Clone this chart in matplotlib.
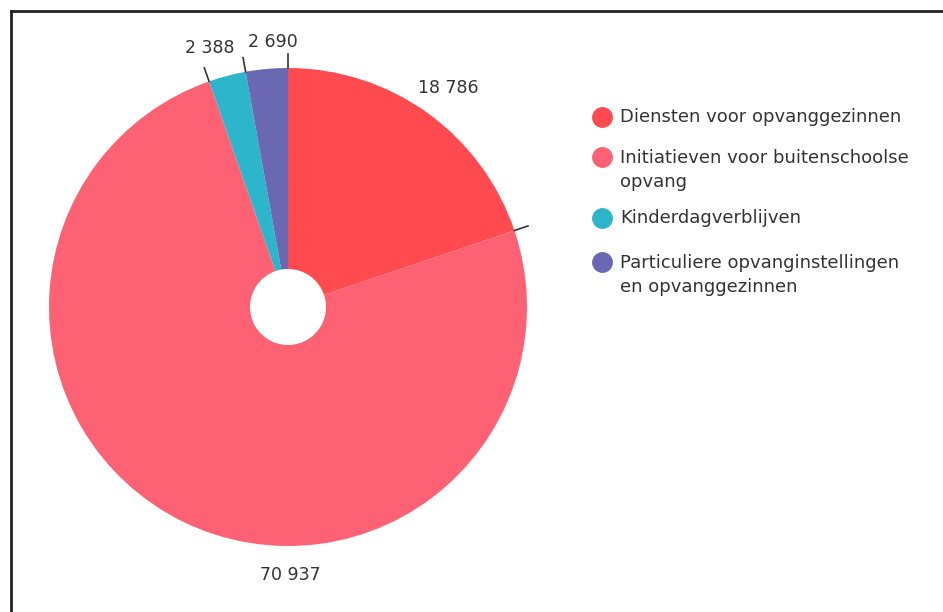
import matplotlib.pyplot as plt
from matplotlib.lines import Line2D
import numpy as np

# data
labels = ['Diensten voor opvanggezinnen',
          'Initiatieven voor buitenschoolse\nopvang',
          'Kinderdagverblijven',
          'Particuliere opvanginstellingen\nen opvanggezinnen']
values = [18786, 70937, 2388, 2690]
value_labels = ['18 786', '70 937', '2 388', '2 690']
colors = ['#ff4b4f', '#fc6273', '#2db5cc', '#6a68b2']

plt.rcParams['font.family'] = ['Liberation Sans Narrow', 'DejaVu Sans']

W, H = 943, 612
fig = plt.figure(figsize=(W / 100, H / 100), dpi=100)

# frame lines (top and left)
fig.add_artist(Line2D([11 / W, 1], [1 - 11 / H, 1 - 11 / H], color='#222222', lw=2))
fig.add_artist(Line2D([11 / W, 11 / W], [0, 1 - 11 / H], color='#222222', lw=2))

# pie axes: center (288, 307), radius 239 px
cx, cy, r = 288, 307, 239
ax = fig.add_axes([(cx - r) / W, 1 - (cy + r) / H, 2 * r / W, 2 * r / H])
wedges, _ = ax.pie(values, colors=colors, startangle=90, counterclock=False,
                   radius=1, wedgeprops=dict(width=1 - 38 / 239, linewidth=0))
ax.set_xlim(-1, 1)
ax.set_ylim(-1, 1)
ax.set_aspect('equal')
ax.axis('off')

# small ticks at slice boundaries
for w in wedges:
    a = np.deg2rad(w.theta2)
    ax.plot([1.0 * np.cos(a), 1.06 * np.cos(a)], [1.0 * np.sin(a), 1.06 * np.sin(a)],
            color='#333333', lw=1.2, clip_on=False)

# value labels
label_pos = [(448, 88), (290, 575), (210, 48), (273, 42)]
for txt, (x, y) in zip(value_labels, label_pos):
    fig.text(x / W, 1 - y / H, txt, ha='center', va='center', fontsize=12.5, color='#333333')

# legend
leg_y = [117, 157, 218, 262]
text_y = [117, 170, 218, 275]
for lab, col, ly, ty in zip(labels, colors, leg_y, text_y):
    fig.add_artist(Line2D([602 / W], [1 - ly / H], marker='o', markersize=14,
                          color=col, linestyle='none'))
    fig.text(620 / W, 1 - ty / H, lab, ha='left', va='center', fontsize=13,
             color='#333333', linespacing=1.45)

plt.savefig('out.png', dpi=100)
